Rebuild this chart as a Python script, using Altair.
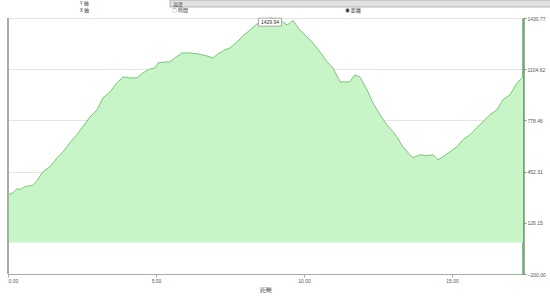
import altair as alt
import pandas as pd

# distance (km) and elevation (m)
distance = [0.00, 0.17, 0.30, 0.41, 0.57, 0.74, 0.84, 0.98, 1.18, 1.42, 1.66, 1.86,
            2.09, 2.33, 2.53, 2.77, 3.01, 3.21, 3.45, 3.68, 3.89, 4.12, 4.36, 4.56,
            4.80, 4.97, 5.07, 5.30, 5.47, 5.64, 5.88, 6.15, 6.42, 6.72, 6.93, 7.09,
            7.33, 7.50, 7.74, 7.94, 8.18, 8.41, 8.61, 8.85, 9.09, 9.29, 9.43, 9.63,
            9.86, 10.10, 10.30, 10.54, 10.78, 10.98, 11.22, 11.39, 11.55, 11.72, 11.89,
            12.13, 12.33, 12.57, 12.80, 13.01, 13.14, 13.34, 13.58, 13.68, 13.92, 14.16,
            14.36, 14.53, 14.70, 14.93, 15.17, 15.37, 15.61, 15.84, 16.05, 16.28, 16.52,
            16.72, 16.96, 17.20, 17.40]
elevation = [305.4, 318.0, 343.6, 337.2, 356.3, 362.6, 362.6, 394.4, 451.7, 483.4, 540.7, 578.8,
             636.0, 686.9, 737.8, 801.3, 845.8, 922.1, 960.3, 1017.5, 1055.6, 1049.3, 1049.3, 1081.1,
             1106.5, 1112.9, 1144.7, 1151.0, 1151.0, 1176.4, 1208.2, 1208.2, 1201.9, 1189.2, 1176.4, 1201.9,
             1227.3, 1240.0, 1278.2, 1316.3, 1354.5, 1392.6, 1405.3, 1429.94, 1424.4, 1405.3, 1386.3, 1415.0,
             1354.5, 1310.0, 1271.8, 1214.6, 1151.0, 1112.9, 1023.9, 1023.9, 1023.9, 1068.4, 1055.6,
             973.0, 890.3, 814.1, 750.5, 706.0, 674.2, 610.6, 559.7, 540.7, 559.7, 553.4,
             559.7, 527.9, 547.0, 578.8, 610.6, 655.1, 686.9, 731.4, 769.6, 814.1, 845.8,
             909.4, 941.2, 1017.5, 1055.6]

y_ticks = [-200.00, 126.15, 452.31, 778.46, 1104.62, 1430.77]
x_ticks = [0, 5, 10, 15]

header_labels = ["Y 軸", "X 軸", "高度", "○ 時間", "◉ 距離"]

df = pd.DataFrame({"distance": distance, "elevation": elevation})
imax = df["elevation"].idxmax()
peak = pd.DataFrame({"distance": [df.loc[imax, "distance"]],
                     "elevation": [df.loc[imax, "elevation"]],
                     "label": [f"{df.loc[imax, 'elevation']:.2f}"]})

W, H = 515, 256
FONT = "Liberation Sans"

xscale = alt.Scale(domain=[0, 17.4], nice=False, zero=False)
yscale = alt.Scale(domain=[-200, 1430.77], nice=False, zero=False)

x_enc = alt.X("distance:Q", scale=xscale,
              axis=alt.Axis(values=x_ticks, format=".2f", title="距離", grid=False,
                            domainColor="#aaaaaa", tickColor="#aaaaaa", tickSize=3,
                            labelFontSize=5, labelColor="#555555", labelFont=FONT,
                            titleFontSize=5.5, titleFontWeight="normal", titleColor="#444444",
                            titleFont=FONT, titlePadding=4, labelPadding=1))
y_enc = alt.Y("elevation:Q", scale=yscale,
              axis=alt.Axis(orient="right", values=y_ticks, format=".2f", title=None,
                            grid=True, gridColor="#e4e4e4", domainColor="#6aaa6a",
                            domainWidth=2.5, tickColor="#888888", tickSize=3,
                            labelFontSize=5, labelColor="#555555", labelFont=FONT,
                            labelPadding=1))

area = alt.Chart(df).mark_area(
    color="#c8f5c8", opacity=1,
    line={"color": "#6cbf6c", "strokeWidth": 0.9}
).encode(x=x_enc, y=y_enc, y2=alt.datum(0))

left_rule = alt.Chart(df).mark_rule(color="#aaaaaa", strokeWidth=1.5).encode(
    x=alt.datum(0, scale=xscale), y=alt.value(0), y2=alt.value(H))

box = alt.Chart(peak).mark_rect(width=23, height=8, fill="white", stroke="#888888",
                               strokeWidth=0.7, yOffset=4).encode(
    x=alt.X("distance:Q", scale=xscale), y=alt.Y("elevation:Q", scale=yscale))
box_text = alt.Chart(peak).mark_text(fontSize=5, font=FONT, color="#333333",
                                     yOffset=4, baseline="middle").encode(
    x=alt.X("distance:Q", scale=xscale), y=alt.Y("elevation:Q", scale=yscale),
    text="label:N")

# header controls (above the plot)
hdr = pd.DataFrame({"label": header_labels,
                    "px": [72, 72, 165, 164, 337],
                    "py": [-15, -8, -14.5, -8, -8]})
dropdown = alt.Chart(hdr.head(1)).mark_rect(fill="#e2e2e2", stroke="#9a9a9a",
                                            strokeWidth=0.7).encode(
    x=alt.value(162), x2=alt.value(545), y=alt.value(-18), y2=alt.value(-11))
hdr_text = alt.Chart(hdr).mark_text(fontSize=5, font="Noto Sans CJK JP", color="#333333",
                                    align="left", baseline="middle").encode(
    x=alt.X("px:Q", scale=None), y=alt.Y("py:Q", scale=None), text="label:N")

chart = alt.layer(area, left_rule, box, box_text, dropdown, hdr_text).properties(
    width=W, height=H,
    autosize=alt.AutoSizeParams(type="none"),
    padding={"left": 8, "top": 18, "right": 27, "bottom": 22},
).configure_view(stroke=None).configure(background="white")

chart.save("out.html", embed_options={"renderer": "svg", "actions": False})
